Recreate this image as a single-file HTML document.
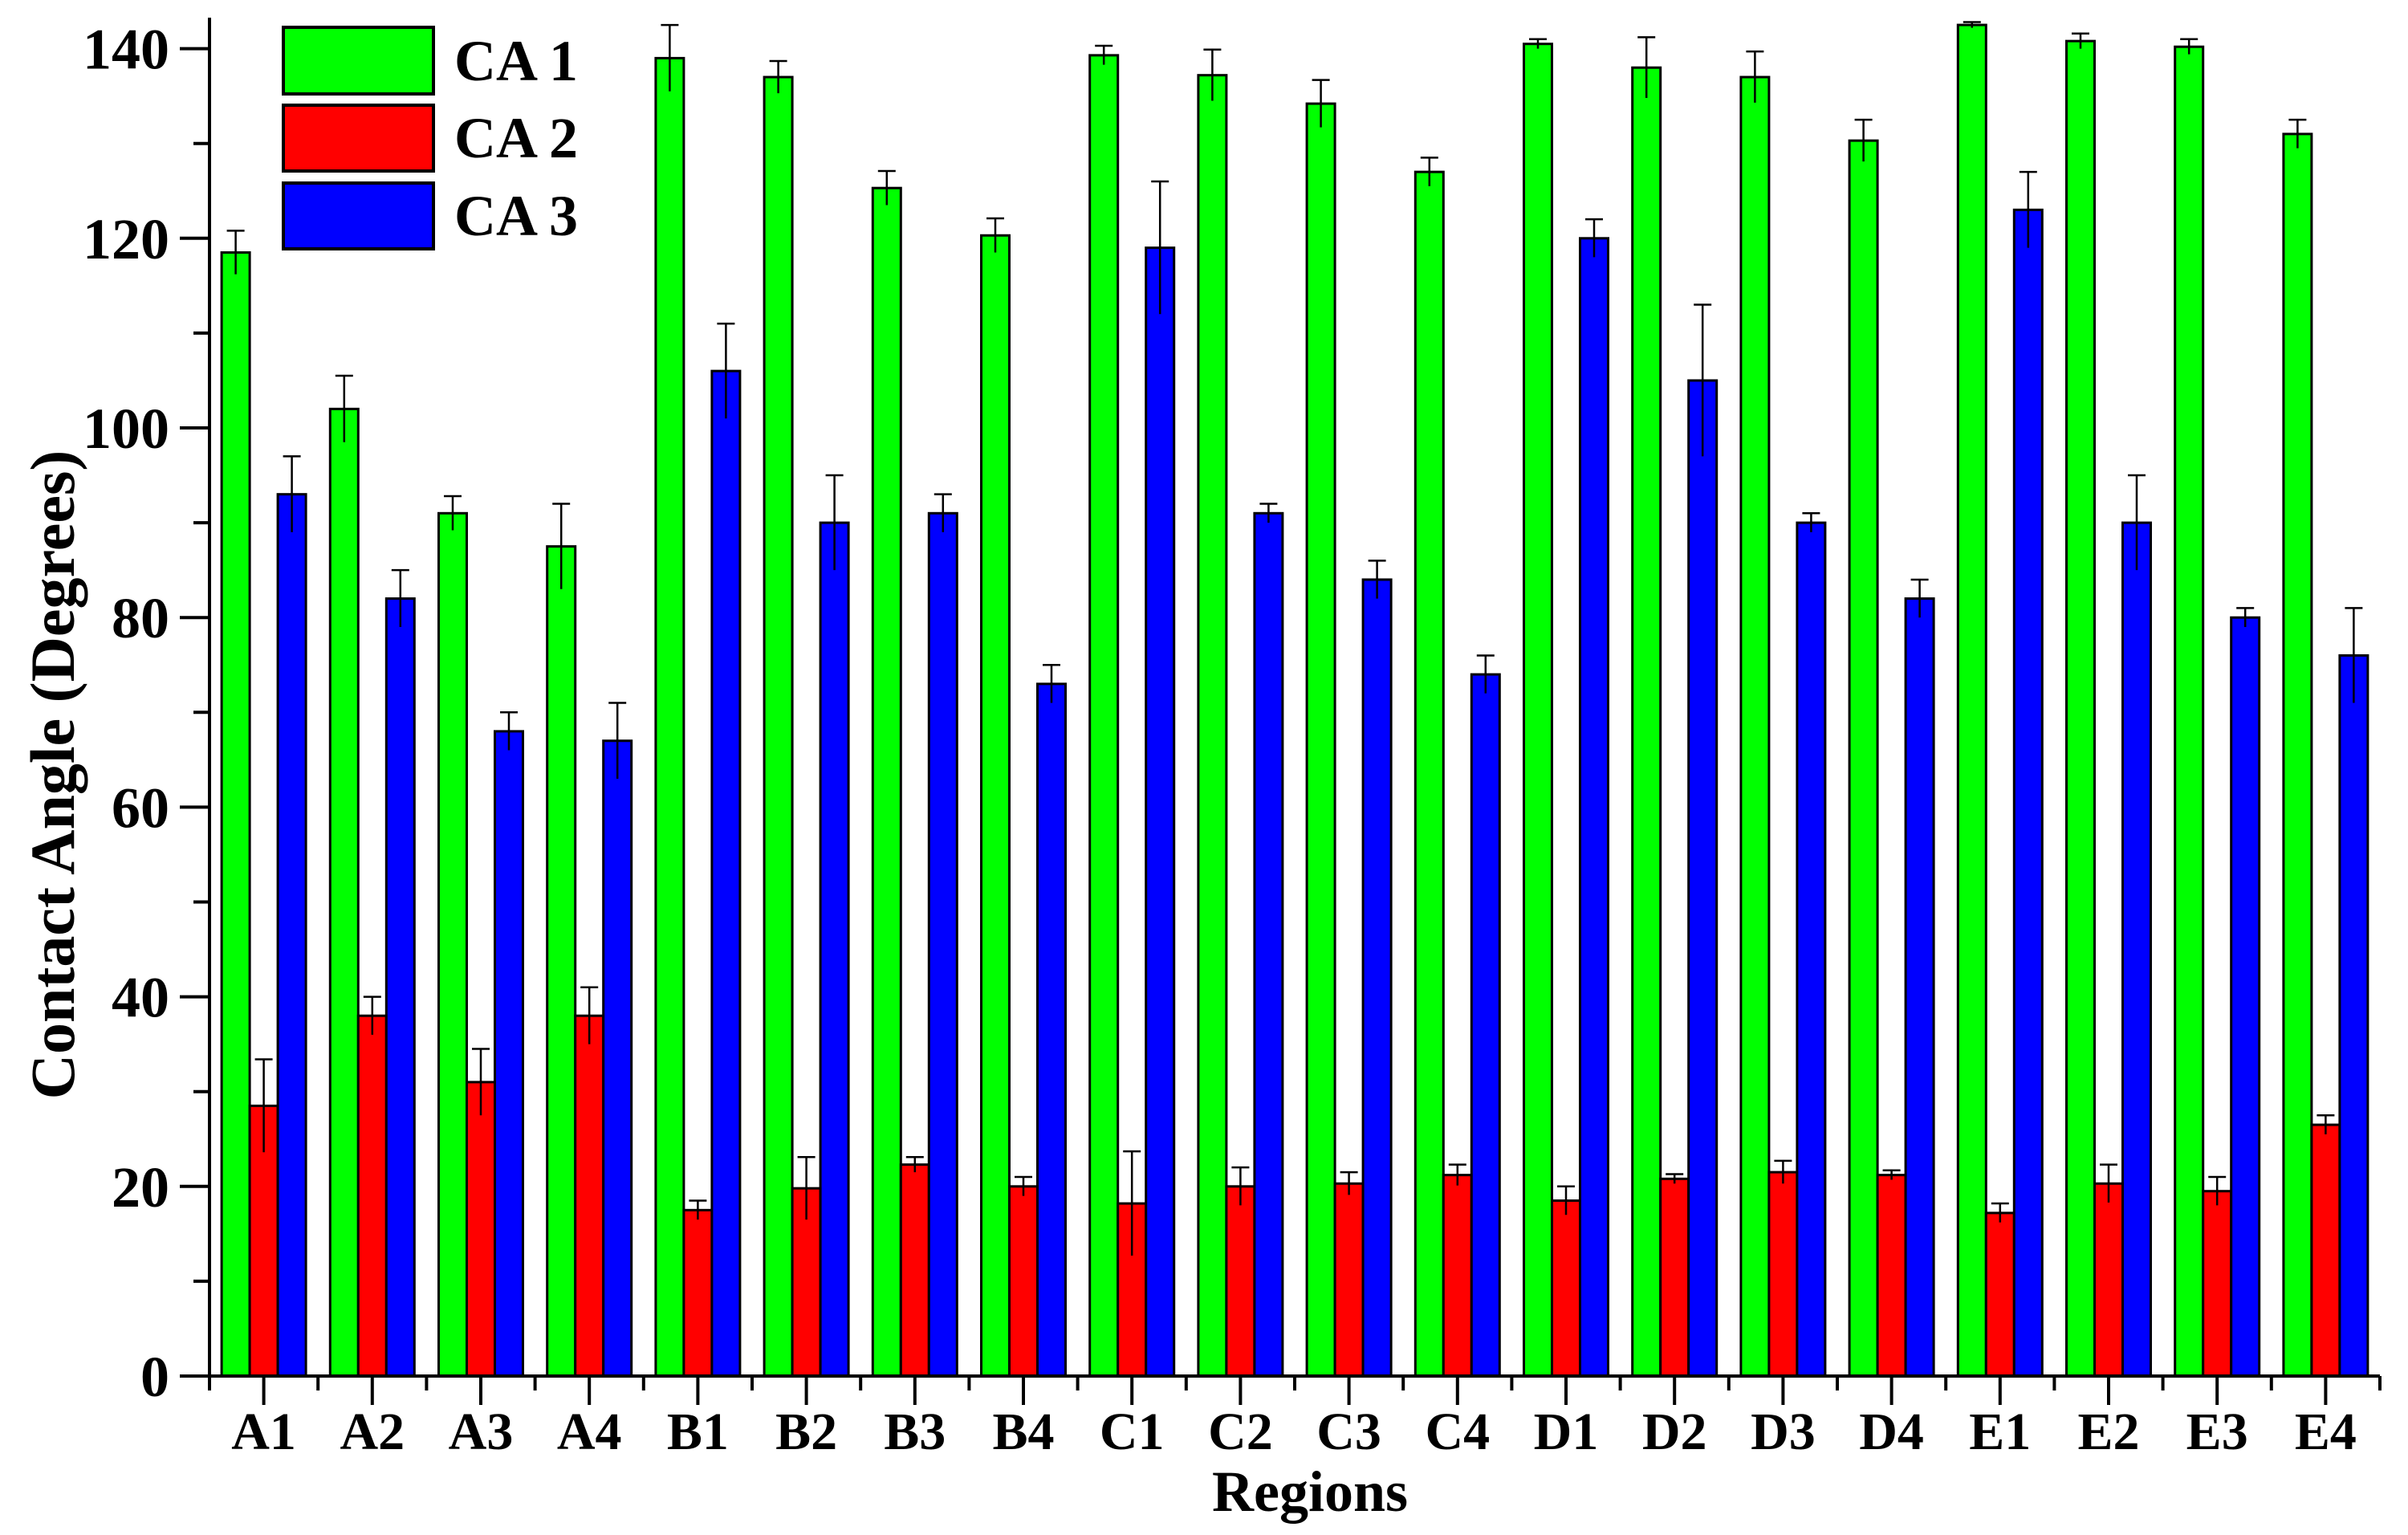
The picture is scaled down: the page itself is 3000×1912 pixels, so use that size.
<!DOCTYPE html>
<html><head><meta charset="utf-8"><style>
html,body{margin:0;padding:0;background:#fff;}
svg{display:block;font-family:"Liberation Serif",serif;font-weight:bold;}
</style></head><body>
<svg id="chart" width="3000" height="1912" viewBox="0 0 3000 1912" xmlns="http://www.w3.org/2000/svg">
<rect width="3000" height="1912" fill="#fff"/>
<g id="bars"></g>
<g id="axes"></g>
<text x="92" y="965" font-size="78" text-anchor="middle" transform="rotate(-90 92 965)">Contact Angle (Degrees)</text>
<text x="1632" y="1882" font-size="72" text-anchor="middle">Regions</text>
<g>
<rect x="353" y="34" width="187" height="83" fill="#00ff00" stroke="#000" stroke-width="4"/>
<text x="566" y="100" font-size="72">CA 1</text>
<rect x="353" y="131" width="187" height="82" fill="#ff0000" stroke="#000" stroke-width="4"/>
<text x="566" y="196" font-size="72">CA 2</text>
<rect x="353" y="228" width="187" height="82" fill="#0000ff" stroke="#000" stroke-width="4"/>
<text x="566" y="293" font-size="72">CA 3</text>
</g>
</svg>
<script>
const categories=["A1","A2","A3","A4","B1","B2","B3","B4","C1","C2","C3","C4","D1","D2","D3","D4","E1","E2","E3","E4"];
const ca1=[118.5,102,91,87.5,139,137,125.3,120.3,139.3,137.2,134.2,127,140.5,138,137,130.3,142.5,140.8,140.2,131];
const ca1Err=[2.3,3.5,1.8,4.5,3.5,1.7,1.8,1.8,1,2.7,2.5,1.5,0.5,3.2,2.7,2.2,0.3,0.8,0.8,1.5];
const ca2=[28.5,38,31,38,17.5,19.8,22.3,20,18.2,20,20.3,21.2,18.5,20.8,21.5,21.2,17.2,20.3,19.5,26.5];
const ca2Err=[4.9,2,3.5,3,1,3.3,0.8,1,5.5,2,1.2,1.1,1.5,0.5,1.2,0.5,1,2,1.5,1];
const ca3=[93,82,68,67,106,90,91,73,119,91,84,74,120,105,90,82,123,90,80,76];
const ca3Err=[4,3,2,4,5,5,2,2,7,1,2,2,2,8,1,2,4,5,1,5];
const yTicks=[0,20,40,60,80,100,120,140];

const NS="http://www.w3.org/2000/svg";
const X0=261,X1=2965,Y0=1714,PPU=11.81;
const step=(X1-X0)/categories.length;
const xc=i=>X0+step*(i+0.5);
const y=v=>Y0-v*PPU;
function mk(tag,attrs,parent){const e=document.createElementNS(NS,tag);for(const k in attrs)e.setAttribute(k,attrs[k]);parent.appendChild(e);return e;}
const bars=document.getElementById('bars'),axes=document.getElementById('axes');
const series=[[ca1,ca1Err,"#00ff00","ca1"],[ca2,ca2Err,"#ff0000","ca2"],[ca3,ca3Err,"#0000ff","ca3"]];
const bw=35;
categories.forEach((c,i)=>{
  series.forEach((s,j)=>{
    const v=s[0][i],e=s[1][i];
    const x=xc(i)-1.5*bw+j*bw;
    const r=mk('rect',{x:x,y:y(v),width:bw,height:Y0-y(v),fill:s[2],stroke:'#000','stroke-width':3},bars);
    
    
    const cx=x+bw/2;
    const l=mk('path',{d:`M${cx} ${y(v-e)}V${y(v+e)}M${cx-11} ${y(v+e)}H${cx+11}`,stroke:'#000','stroke-width':2.5,fill:'none'},bars);
    
    
  });
});
let a=mk('line',{x1:X0,y1:22,x2:X0,y2:Y0,stroke:'#000','stroke-width':4},axes);

a=mk('line',{x1:X0-37,y1:Y0,x2:X1,y2:Y0,stroke:'#000','stroke-width':4},axes);

yTicks.forEach(t=>{
  const tk=mk('line',{x1:X0-37,y1:y(t),x2:X0,y2:y(t),stroke:'#000','stroke-width':4},axes);
  
  const tx=mk('text',{x:X0-50,y:y(t)+25,'font-size':72,'text-anchor':'end'},axes);
  tx.textContent=t;
  
  if(t<140){const m=mk('line',{x1:X0-20,y1:y(t+10),x2:X0,y2:y(t+10),stroke:'#000','stroke-width':4},axes);
  }
});
categories.forEach((c,i)=>{
  const tk=mk('line',{x1:xc(i),y1:Y0,x2:xc(i),y2:Y0+36,stroke:'#000','stroke-width':4},axes);
  
  const m=mk('line',{x1:X0+step*i,y1:Y0,x2:X0+step*i,y2:Y0+18,stroke:'#000','stroke-width':4},axes);
  
  const tx=mk('text',{x:xc(i),y:1805,'font-size':66,'text-anchor':'middle'},axes);
  tx.textContent=c;
  
});
const me=mk('line',{x1:X1,y1:Y0,x2:X1,y2:Y0+18,stroke:'#000','stroke-width':4},axes);

</script>
</body></html>
